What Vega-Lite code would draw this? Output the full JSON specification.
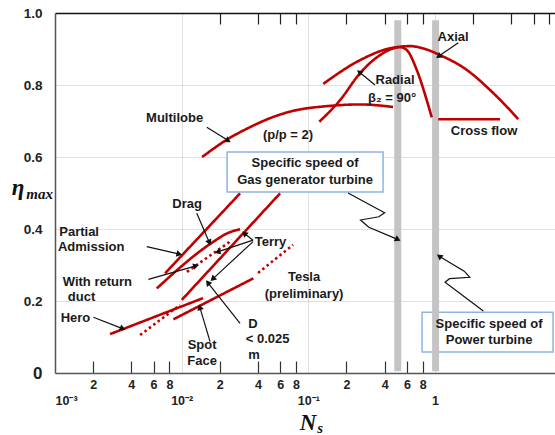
{
  "$schema": "https://vega.github.io/schema/vega-lite/v6.json",
  "width": 500,
  "height": 360,
  "autosize": "none",
  "padding": {"left": 55, "top": 13, "right": 0, "bottom": 62},
  "config": {"view": {"stroke": null}, "font": "Liberation Sans"},
  "resolve": {"axis": {"x": "independent", "y": "independent"}},
  "datasets": {
    "boxes": [
      {"name": "gas", "x": 0.02282, "x2": 0.3887, "y": 0.614, "y2": 0.503},
      {"name": "power", "x": 0.79, "x2": 8.54, "y": 0.169, "y2": 0.058}
    ],
    "bars": [
      {"name": "gas generator", "x": 0.508, "y": 0.005, "y2": 0.98},
      {"name": "power turbine", "x": 1.01, "y": 0.005, "y2": 0.98}
    ],
    "curves": [
      {"s": "multilobe", "t": "solid", "i": 0, "x": 0.0145, "y": 0.600},
      {"s": "multilobe", "t": "solid", "i": 1, "x": 0.0232, "y": 0.650},
      {"s": "multilobe", "t": "solid", "i": 2, "x": 0.0347, "y": 0.683},
      {"s": "multilobe", "t": "solid", "i": 3, "x": 0.0499, "y": 0.708},
      {"s": "multilobe", "t": "solid", "i": 4, "x": 0.0717, "y": 0.726},
      {"s": "multilobe", "t": "solid", "i": 5, "x": 0.148, "y": 0.742},
      {"s": "multilobe", "t": "solid", "i": 6, "x": 0.256, "y": 0.746},
      {"s": "multilobe", "t": "solid", "i": 7, "x": 0.466, "y": 0.739},
      {"s": "radial", "t": "solid", "i": 0, "x": 0.122, "y": 0.698},
      {"s": "radial", "t": "solid", "i": 1, "x": 0.178, "y": 0.758},
      {"s": "radial", "t": "solid", "i": 2, "x": 0.256, "y": 0.833},
      {"s": "radial", "t": "solid", "i": 3, "x": 0.368, "y": 0.883},
      {"s": "radial", "t": "solid", "i": 4, "x": 0.530, "y": 0.905},
      {"s": "radial", "t": "solid", "i": 5, "x": 0.598, "y": 0.897},
      {"s": "radial", "t": "solid", "i": 6, "x": 0.717, "y": 0.842},
      {"s": "radial", "t": "solid", "i": 7, "x": 0.860, "y": 0.758},
      {"s": "radial", "t": "solid", "i": 8, "x": 0.942, "y": 0.710},
      {"s": "axial", "t": "solid", "i": 0, "x": 0.131, "y": 0.803},
      {"s": "axial", "t": "solid", "i": 1, "x": 0.256, "y": 0.869},
      {"s": "axial", "t": "solid", "i": 2, "x": 0.441, "y": 0.902},
      {"s": "axial", "t": "solid", "i": 3, "x": 0.635, "y": 0.908},
      {"s": "axial", "t": "solid", "i": 4, "x": 0.834, "y": 0.900},
      {"s": "axial", "t": "solid", "i": 5, "x": 1.095, "y": 0.883},
      {"s": "axial", "t": "solid", "i": 6, "x": 1.78, "y": 0.842},
      {"s": "axial", "t": "solid", "i": 7, "x": 2.72, "y": 0.786},
      {"s": "axial", "t": "solid", "i": 8, "x": 3.68, "y": 0.740},
      {"s": "axial", "t": "solid", "i": 9, "x": 4.54, "y": 0.705},
      {"s": "crossflow", "t": "solid", "i": 0, "x": 1.06, "y": 0.705},
      {"s": "crossflow", "t": "solid", "i": 1, "x": 3.26, "y": 0.705},
      {"s": "hero", "t": "solid", "i": 0, "x": 0.00272, "y": 0.108},
      {"s": "hero", "t": "solid", "i": 1, "x": 0.01475, "y": 0.208},
      {"s": "lowdot", "t": "dotted", "i": 0, "x": 0.0047, "y": 0.1056},
      {"s": "lowdot", "t": "dotted", "i": 1, "x": 0.0097, "y": 0.189},
      {"s": "dline", "t": "solid", "i": 0, "x": 0.01002, "y": 0.203},
      {"s": "dline", "t": "solid", "i": 1, "x": 0.0598, "y": 0.499},
      {"s": "partial", "t": "solid", "i": 0, "x": 0.0074, "y": 0.277},
      {"s": "partial", "t": "solid", "i": 1, "x": 0.0289, "y": 0.499},
      {"s": "drag", "t": "solid", "i": 0, "x": 0.00636, "y": 0.235},
      {"s": "drag", "t": "solid", "i": 1, "x": 0.0177, "y": 0.364},
      {"s": "drag", "t": "solid", "i": 2, "x": 0.0232, "y": 0.389},
      {"s": "drag", "t": "solid", "i": 3, "x": 0.0289, "y": 0.399},
      {"s": "terrydot", "t": "dotted", "i": 0, "x": 0.0110, "y": 0.281},
      {"s": "terrydot", "t": "dotted", "i": 1, "x": 0.0250, "y": 0.369},
      {"s": "spot", "t": "solid", "i": 0, "x": 0.0086, "y": 0.149},
      {"s": "spot", "t": "solid", "i": 1, "x": 0.0368, "y": 0.263},
      {"s": "tesla", "t": "dotted", "i": 0, "x": 0.0401, "y": 0.278},
      {"s": "tesla", "t": "dotted", "i": 1, "x": 0.0757, "y": 0.356}
    ],
    "arrows": [
      {"a": "axial", "i": 0, "x": 1.527, "y": 0.9175}, {"a": "axial", "i": 1, "x": 1.081, "y": 0.881},
      {"a": "radial", "i": 0, "x": 0.336, "y": 0.80}, {"a": "radial", "i": 1, "x": 0.256, "y": 0.834},
      {"a": "multilobe", "i": 0, "x": 0.01578, "y": 0.6825}, {"a": "multilobe", "i": 1, "x": 0.02295, "y": 0.647},
      {"a": "partial", "i": 0, "x": 0.0053, "y": 0.351}, {"a": "partial", "i": 1, "x": 0.00942, "y": 0.331},
      {"a": "drag", "i": 0, "x": 0.01316, "y": 0.4436}, {"a": "drag", "i": 1, "x": 0.01644, "y": 0.3647},
      {"a": "duct", "i": 0, "x": 0.00546, "y": 0.260}, {"a": "duct", "i": 1, "x": 0.01276, "y": 0.297},
      {"a": "terry1", "i": 0, "x": 0.0366, "y": 0.369}, {"a": "terry1", "i": 1, "x": 0.03165, "y": 0.386},
      {"a": "terry2", "i": 0, "x": 0.0366, "y": 0.369}, {"a": "terry2", "i": 1, "x": 0.0195, "y": 0.337},
      {"a": "terry3", "i": 0, "x": 0.0366, "y": 0.365}, {"a": "terry3", "i": 1, "x": 0.01779, "y": 0.263},
      {"a": "hero", "i": 0, "x": 0.00201, "y": 0.1547}, {"a": "hero", "i": 1, "x": 0.00337, "y": 0.124},
      {"a": "spot", "i": 0, "x": 0.01675, "y": 0.087}, {"a": "spot", "i": 1, "x": 0.01397, "y": 0.180},
      {"a": "d", "i": 0, "x": 0.0289, "y": 0.138}, {"a": "d", "i": 1, "x": 0.01625, "y": 0.249},
      {"a": "gas", "i": 0, "x": 0.2057, "y": 0.5}, {"a": "gas", "i": 1, "x": 0.40, "y": 0.445},
      {"a": "gas", "i": 2, "x": 0.36, "y": 0.434}, {"a": "gas", "i": 3, "x": 0.258, "y": 0.425},
      {"a": "gas", "i": 4, "x": 0.30, "y": 0.405}, {"a": "gas", "i": 5, "x": 0.501, "y": 0.372},
      {"a": "power", "i": 0, "x": 2.405, "y": 0.172}, {"a": "power", "i": 1, "x": 1.2, "y": 0.252},
      {"a": "power", "i": 2, "x": 1.3, "y": 0.262}, {"a": "power", "i": 3, "x": 1.88, "y": 0.266},
      {"a": "power", "i": 4, "x": 1.7, "y": 0.283}, {"a": "power", "i": 5, "x": 1.095, "y": 0.323}
    ],
    "heads": [
      {"a": "axial", "x": 1.081, "y": 0.881, "dir": 236},
      {"a": "radial", "x": 0.256, "y": 0.834, "dir": 309},
      {"a": "multilobe", "x": 0.02295, "y": 0.647, "dir": 122},
      {"a": "partial", "x": 0.00942, "y": 0.331, "dir": 103},
      {"a": "drag", "x": 0.01644, "y": 0.3647, "dir": 157},
      {"a": "duct", "x": 0.01276, "y": 0.297, "dir": 74},
      {"a": "terry1", "x": 0.03165, "y": 0.386, "dir": 312},
      {"a": "terry2", "x": 0.0195, "y": 0.337, "dir": 251},
      {"a": "terry3", "x": 0.01779, "y": 0.263, "dir": 227},
      {"a": "hero", "x": 0.00337, "y": 0.124, "dir": 111},
      {"a": "spot", "x": 0.01397, "y": 0.180, "dir": 343},
      {"a": "d", "x": 0.01625, "y": 0.249, "dir": 322},
      {"a": "gas", "x": 0.501, "y": 0.372, "dir": 117},
      {"a": "power", "x": 1.095, "y": 0.323, "dir": 306}
    ],
    "labels": [
      {"text": "Axial", "x": 1.387, "y": 0.933},
      {"text": "Radial", "x": 0.483, "y": 0.814},
      {"text": "β₂ = 90°", "x": 0.458, "y": 0.765},
      {"text": "Multilobe", "x": 0.00879, "y": 0.708},
      {"text": "(p/p = 2)", "x": 0.0691, "y": 0.661},
      {"text": "Cross  flow", "x": 2.436, "y": 0.671},
      {"text": "Specific speed of", "x": 0.0942, "y": 0.583},
      {"text": "Gas generator turbine", "x": 0.0942, "y": 0.536},
      {"text": "Specific speed of", "x": 2.67, "y": 0.136},
      {"text": "Power turbine", "x": 2.67, "y": 0.0917},
      {"text": "Drag", "x": 0.01103, "y": 0.469},
      {"text": "Partial", "x": 0.00155, "y": 0.392},
      {"text": "Admission", "x": 0.00193, "y": 0.35},
      {"text": "With return", "x": 0.00216, "y": 0.253},
      {"text": "duct", "x": 0.00162, "y": 0.211},
      {"text": "Hero", "x": 0.00145, "y": 0.153},
      {"text": "Terry", "x": 0.0503, "y": 0.364},
      {"text": "Tesla", "x": 0.0925, "y": 0.267},
      {"text": "(preliminary)", "x": 0.0925, "y": 0.219},
      {"text": "Spot", "x": 0.01449, "y": 0.078},
      {"text": "Face", "x": 0.01449, "y": 0.033},
      {"text": "D", "x": 0.0365, "y": 0.1375},
      {"text": "< 0.025", "x": 0.0477, "y": 0.094},
      {"text": "m", "x": 0.0373, "y": 0.05}
    ],
    "mathbig": [
      {"text": "η", "x": 0.000512, "y": 0.494},
      {"text": "N", "x": 0.0995, "y": -0.158}
    ],
    "mathsmall": [
      {"text": "max", "x": 0.000755, "y": 0.483},
      {"text": "s", "x": 0.1237, "y": -0.1667}
    ]
  },
  "layer": [
    {
      "data": {"name": "boxes"},
      "mark": {"type": "rect", "fill": "white", "stroke": "#8db4e2", "strokeWidth": 1.5},
      "encoding": {
        "x": {
          "field": "x", "type": "quantitative",
          "scale": {"type": "log", "domain": [0.001, 8.85], "nice": false},
          "axis": {
            "orient": "bottom", "title": null,
            "values": [0.001, 0.002, 0.004, 0.006, 0.008, 0.01, 0.02, 0.04, 0.06, 0.08, 0.1, 0.2, 0.4, 0.6, 0.8, 1],
            "labelExpr": "round(datum.value/pow(10,floor(log(datum.value)/LN10+1e-6)))==1 ? ['', datum.value>0.5 ? '1' : ('10' + (datum.value<0.005 ? '⁻³' : datum.value<0.05 ? '⁻²' : '⁻¹'))] : '' + round(datum.value/pow(10,floor(log(datum.value)/LN10+1e-6)))",
            "labelFontWeight": "bold", "labelFontSize": 12.5, "labelColor": "#222",
            "labelBaseline": "top", "labelLineHeight": 16, "labelPadding": 17,
            "labelOverlap": false, "labelBound": false,
            "tickSize": -12, "tickColor": "#333", "tickWidth": 1.2,
            "tickOpacity": {"condition": {"test": "round(datum.value/pow(10,floor(log(datum.value)/LN10+1e-6)))==1", "value": 0}, "value": 1},
            "domainColor": "#555", "domainWidth": 1.5,
            "grid": true, "gridColor": "#c0c0c0", "gridDash": [1, 1],
            "gridOpacity": {"condition": {"test": "round(datum.value/pow(10,floor(log(datum.value)/LN10+1e-6)))==1", "value": 1}, "value": 0}
          }
        },
        "x2": {"field": "x2"},
        "y": {
          "field": "y", "type": "quantitative",
          "scale": {"domain": [0, 1], "nice": false},
          "axis": {
            "orient": "left", "title": null,
            "values": [0, 0.2, 0.4, 0.6, 0.8, 1],
            "labelExpr": "datum.value == 0 ? '0' : format(datum.value, '.1f')",
            "ticks": false, "labelFlush": false, "labelOverlap": false,
            "labelPadding": 13,
            "labelFontWeight": "bold", "labelColor": "#222",
            "labelFontSize": {"condition": {"test": "datum.value == 0", "value": 17}, "value": 13.5},
            "domainColor": "#555", "domainWidth": 1.5,
            "grid": true, "gridColor": "#c0c0c0", "gridDash": [1, 1],
            "gridOpacity": {"condition": {"test": "datum.value == 0 || datum.value == 1", "value": 0}, "value": 1}
          }
        },
        "y2": {"field": "y2"}
      }
    },
    {
      "data": {"name": "bars"},
      "mark": {"type": "rule", "color": "#c4c4c4", "strokeWidth": 7},
      "encoding": {
        "x": {"field": "x", "type": "quantitative", "axis": null},
        "y": {"field": "y", "type": "quantitative", "axis": null},
        "y2": {"field": "y2"}
      }
    },
    {
      "data": {"name": "curves"},
      "mark": {"type": "line", "color": "#c00000", "strokeWidth": 2.6, "interpolate": "monotone"},
      "encoding": {
        "x": {
          "field": "x", "type": "quantitative",
          "axis": {
            "orient": "top", "title": null, "labels": false,
            "values": [0.02, 0.04, 0.06, 0.08, 0.2, 0.4, 0.6, 0.8, 2, 4, 6, 8],
            "tickSize": -11, "tickColor": "#222", "tickWidth": 1.2,
            "domainColor": "#111", "domainWidth": 1.5, "grid": false
          }
        },
        "y": {"field": "y", "type": "quantitative", "axis": null},
        "detail": {"field": "s"},
        "order": {"field": "i"},
        "strokeDash": {
          "field": "t", "type": "nominal",
          "scale": {"domain": ["solid", "dotted"], "range": [[1, 0], [2.5, 3]]},
          "legend": null
        }
      }
    },
    {
      "data": {"name": "arrows"},
      "mark": {"type": "line", "color": "#111", "strokeWidth": 1.2},
      "encoding": {
        "x": {"field": "x", "type": "quantitative", "axis": null},
        "y": {"field": "y", "type": "quantitative", "axis": null},
        "detail": {"field": "a"},
        "order": {"field": "i"}
      }
    },
    {
      "data": {"name": "heads"},
      "mark": {"type": "point", "shape": "triangle", "filled": true, "color": "#111", "size": 45, "opacity": 1},
      "encoding": {
        "x": {"field": "x", "type": "quantitative", "axis": null},
        "y": {"field": "y", "type": "quantitative", "axis": null},
        "angle": {"field": "dir", "type": "quantitative", "scale": null}
      }
    },
    {
      "data": {"name": "labels"},
      "mark": {"type": "text", "font": "Liberation Sans", "fontWeight": "bold", "fontSize": 13, "color": "#1a1a1a", "align": "center", "baseline": "middle"},
      "encoding": {
        "x": {"field": "x", "type": "quantitative", "axis": null},
        "y": {"field": "y", "type": "quantitative", "axis": null},
        "text": {"field": "text"}
      }
    },
    {
      "data": {"name": "mathbig"},
      "mark": {"type": "text", "font": "Liberation Serif", "fontStyle": "italic", "fontWeight": "bold", "fontSize": 23, "color": "#111", "align": "center", "baseline": "alphabetic"},
      "encoding": {
        "x": {"field": "x", "type": "quantitative", "axis": null},
        "y": {"field": "y", "type": "quantitative", "axis": null},
        "text": {"field": "text"}
      }
    },
    {
      "data": {"name": "mathsmall"},
      "mark": {"type": "text", "font": "Liberation Serif", "fontStyle": "italic", "fontWeight": "bold", "fontSize": 15, "color": "#111", "align": "center", "baseline": "alphabetic"},
      "encoding": {
        "x": {"field": "x", "type": "quantitative", "axis": null},
        "y": {"field": "y", "type": "quantitative", "axis": null},
        "text": {"field": "text"}
      }
    }
  ]
}
